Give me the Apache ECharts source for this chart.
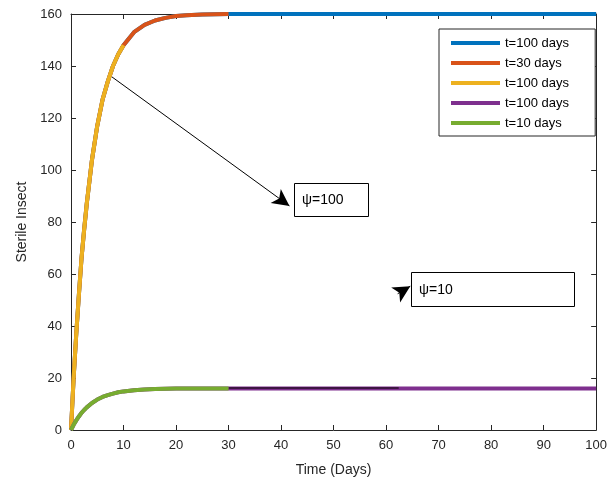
<!DOCTYPE html>
<html>
<head>
<meta charset="utf-8">
<script src="https://cdn.jsdelivr.net/npm/echarts@6/dist/echarts.min.js"></script>
<style>
  html, body { margin: 0; padding: 0; background: #fff; }
  #chart { width: 610px; height: 487px; }
</style>
</head>
<body>
<div id="chart"></div>
<script>
// time samples shared by all curves (days)
const timeDays = [0, 0.5, 1, 1.5, 2, 2.5, 3, 4, 5, 6, 7, 8, 9, 10, 12, 14, 16, 18, 20, 22, 25, 30, 40, 50, 60, 70, 80, 90, 100];
// psi = 100 curve
const sterileHigh = [0, 20, 37, 52, 66, 77, 87, 104, 117, 127, 134, 140, 144.5, 148, 153, 155.8, 157.5, 158.5, 159.2, 159.5, 159.8, 160, 160, 160, 160, 160, 160, 160, 160];
// psi = 10 curve
const sterileLow = [0, 2.0, 3.7, 5.2, 6.6, 7.7, 8.7, 10.4, 11.7, 12.7, 13.4, 14.0, 14.5, 14.85, 15.33, 15.6, 15.76, 15.86, 15.92, 15.95, 15.98, 16, 16, 16, 16, 16, 16, 16, 16];
// dark segment on top of the purple line
const darkTime = [30, 62.4];
const darkValue = [16.2, 16.2];

const legendNames = ['t=100 days', 't=30 days', 't=100 days ', 't=100 days  ', 't=10 days'];
const seriesEnds = [100, 30, 10, 100, 30];
const seriesColors = ['#0072BD', '#D95319', '#EDB120', '#7E2F8E', '#77AC30'];

const xTicks = [0, 100, 10];
const yTicks = [0, 160, 20];

const font = "'Liberation Sans', Arial, sans-serif";
const axisColor = '#262626';

function curve(values, tEnd) {
  let pts = [];
  timeDays.forEach((t, i) => {
    if (t <= tEnd) pts.push([t, values[i]]);
  });
  return pts;
}

function lineSeries(name, data, color, width) {
  return {
    name: name,
    type: 'line',
    data: data,
    showSymbol: false,
    symbol: 'none',
    clip: false,
    lineStyle: { color: color, width: width },
    itemStyle: { color: color },
    animation: false
  };
}

let series = [
  lineSeries(legendNames[0], curve(sterileHigh, seriesEnds[0]), seriesColors[0], 4),
  lineSeries(legendNames[1], curve(sterileHigh, seriesEnds[1]), seriesColors[1], 4),
  lineSeries(legendNames[2], curve(sterileHigh, seriesEnds[2]), seriesColors[2], 4),
  lineSeries(legendNames[3], curve(sterileLow, seriesEnds[3]), seriesColors[3], 4),
  lineSeries('dark', darkTime.map((t, i) => [t, darkValue[i]]), '#2a0f2a', 1.5),
  lineSeries(legendNames[4], curve(sterileLow, seriesEnds[4]), seriesColors[4], 4)
];

// annotation arrows (psi=100 with line, psi=10 head only)
series[0].markLine = {
  silent: true,
  animation: false,
  symbolSize: [13, 17],
  label: { show: false },
  lineStyle: { color: '#000', width: 1, type: 'solid' },
  data: [
    [{ coord: [7.8, 135.8], symbol: 'none' }, { coord: [41.6, 86.2], symbol: 'arrow' }],
    [{ coord: [62.2, 52.4], symbol: 'none' }, { coord: [64.6, 55.3], symbol: 'arrow' }]
  ]
};

function valueAxis(range, pos, showLabel, extra) {
  return Object.assign({
    type: 'value',
    min: range[0],
    max: range[1],
    interval: range[2],
    position: pos,
    axisLine: { show: true, onZero: false, lineStyle: { color: axisColor, width: 1 } },
    axisTick: { show: true, inside: true, length: 5, lineStyle: { color: axisColor } },
    axisLabel: { show: showLabel, color: axisColor, fontSize: 13, fontFamily: font, margin: 9 },
    splitLine: { show: false }
  }, extra || {});
}

let option = {
  backgroundColor: '#fff',
  animation: false,
  grid: { left: 71, right: 13, top: 14, bottom: 57, containLabel: false },
  legend: {
    orient: 'vertical',
    left: 439,
    top: 29,
    padding: [7, 19, 6, 12],
    itemWidth: 49,
    itemHeight: 4,
    itemGap: 6,
    icon: 'rect',
    borderColor: axisColor,
    borderWidth: 1,
    backgroundColor: '#fff',
    selectedMode: false,
    textStyle: { fontSize: 13, color: '#000', fontFamily: font, lineHeight: 14 },
    data: legendNames
  },
  xAxis: [
    valueAxis(xTicks, 'bottom', true, {
      name: 'Time (Days)',
      nameLocation: 'middle',
      nameGap: 33,
      nameTextStyle: { fontSize: 14, color: axisColor, fontFamily: font }
    }),
    valueAxis(xTicks, 'top', false)
  ],
  yAxis: [
    valueAxis(yTicks, 'left', true, {
      name: 'Sterile Insect',
      nameLocation: 'middle',
      nameGap: 40,
      nameTextStyle: { fontSize: 14, color: axisColor, fontFamily: font }
    }),
    valueAxis(yTicks, 'right', false)
  ],
  series: series
};

let myChart = echarts.init(document.getElementById('chart'));
myChart.setOption(option);

// text boxes, anchored in data coordinates (top-left corner)
const boxes = [
  { text: 'ψ=100', at: [42.4, 95.0], w: 74, h: 33 },
  { text: 'ψ=10', at: [64.8, 60.8], w: 163, h: 34 }
];
let graphics = [];
boxes.forEach(b => {
  let p = myChart.convertToPixel({ gridIndex: 0 }, b.at);
  graphics.push({
    type: 'rect',
    shape: { x: Math.round(p[0]) + 0.5, y: Math.round(p[1]) + 0.5, width: b.w, height: b.h },
    style: { fill: '#fff', stroke: '#000', lineWidth: 1 },
    z: 10
  });
  graphics.push({
    type: 'text',
    style: {
      text: b.text,
      x: Math.round(p[0]) + 8,
      y: Math.round(p[1]) + b.h / 2 + 1,
      fill: '#000',
      font: '14px ' + font,
      verticalAlign: 'middle'
    },
    z: 11
  });
});
myChart.setOption({ graphic: graphics });
</script>
</body>
</html>
